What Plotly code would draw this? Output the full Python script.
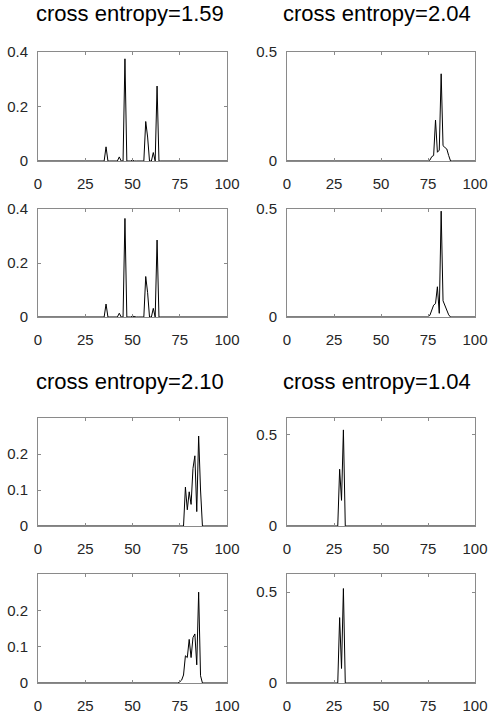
import plotly.graph_objects as go

# ---------------- data ----------------
x_vals = list(range(0, 101))
x_ticks = [0, 25, 50, 75, 100]

titles = ["cross entropy=1.59", "cross entropy=2.04", "cross entropy=2.10", "cross entropy=1.04"]

# each panel: first index of the non-zero segment + values of the segment (all others are 0)
p1_start = 35
p1_vals = [0, 0.052, 0, 0, 0, 0, 0, 0, 0.015, 0, 0, 0.375, 0, 0, 0, 0.003, 0, 0, 0, 0, 0,
           0, 0.145, 0.088, 0, 0, 0.031, 0, 0.275, 0]
p2_start = 75
p2_vals = [0, 0.004, 0.02, 0.025, 0.188, 0.04, 0.05, 0.40, 0.07, 0.062, 0.055, 0.025, 0]
p3_start = 35
p3_vals = [0, 0.048, 0, 0, 0, 0, 0, 0, 0.014, 0, 0, 0.365, 0, 0, 0, 0.003, 0, 0, 0, 0, 0,
           0, 0.15, 0.09, 0, 0, 0.032, 0, 0.285, 0]
p4_start = 75
p4_vals = [0, 0.008, 0.03, 0.055, 0.062, 0.14, 0.017, 0.49, 0.075, 0.05, 0.035, 0.01, 0]
p5_start = 77
p5_vals = [0, 0.108, 0.045, 0.095, 0.06, 0.16, 0.195, 0.04, 0.25, 0.1, 0]
p6_start = 27
p6_vals = [0, 0.31, 0.14, 0.525, 0]
p7_start = 74
p7_vals = [0, 0.003, 0.008, 0.022, 0.075, 0.07, 0.12, 0.07, 0.125, 0.135, 0.05, 0.25, 0.02, 0]
p8_start = 27
p8_vals = [0, 0.36, 0.08, 0.52, 0]

y_ranges = [[0, 0.4], [0, 0.5], [0, 0.4], [0, 0.5], [0, 0.3], [0, 0.59], [0, 0.3], [0, 0.6]]
y_tickvals = [[0, 0.2, 0.4], [0, 0.5], [0, 0.2, 0.4], [0, 0.5],
              [0, 0.1, 0.2], [0, 0.5], [0, 0.1, 0.2], [0, 0.5]]
y_ticktext = [["0", "0.2", "0.4"], ["0", "0.5"], ["0", "0.2", "0.4"], ["0", "0.5"],
              ["0", "0.1", "0.2"], ["0", "0.5"], ["0", "0.1", "0.2"], ["0", "0.5"]]


def full_series(start, vals):
    ys = [0.0] * len(x_vals)
    for i, v in enumerate(vals):
        ys[start + i] = v
    return ys


series = [full_series(p1_start, p1_vals), full_series(p2_start, p2_vals),
          full_series(p3_start, p3_vals), full_series(p4_start, p4_vals),
          full_series(p5_start, p5_vals), full_series(p6_start, p6_vals),
          full_series(p7_start, p7_vals), full_series(p8_start, p8_vals)]

# ---------------- layout geometry (pixels in a 489x715 page) ----------------
W, H = 489, 715
col_px = [(38, 227), (287, 475)]
row_px = [(52, 161), (209, 317), (418, 526), (574, 683)]

AX_COLOR = "#8a8a8a"
FONT = "Liberation Sans, Arial, sans-serif"

fig = go.Figure()
layout = dict(
    width=W, height=H,
    margin=dict(l=0, r=0, t=0, b=0, pad=0),
    paper_bgcolor="white", plot_bgcolor="white",
    showlegend=False,
    font=dict(family=FONT, size=15, color="#262626"),
)

for k in range(8):
    r, c = divmod(k, 2)
    n = k + 1
    xa = "x" if n == 1 else f"x{n}"
    ya = "y" if n == 1 else f"y{n}"
    fig.add_trace(go.Scatter(x=x_vals, y=series[k], mode="lines",
                             line=dict(color="black", width=1),
                             xaxis=xa, yaxis=ya, hoverinfo="skip"))
    x0, x1 = col_px[c]
    yt, yb = row_px[r]
    common = dict(showgrid=False, zeroline=False, showline=True, linecolor=AX_COLOR,
                  linewidth=1, mirror="ticks", ticks="inside", ticklen=3,
                  tickcolor=AX_COLOR, tickwidth=1, automargin=False,
                  tickfont=dict(family=FONT, size=15, color="#262626"))
    layout["xaxis" if n == 1 else f"xaxis{n}"] = dict(
        domain=[x0 / W, x1 / W], anchor=ya, range=[0, 100],
        tickvals=x_ticks, ticktext=[str(t) for t in x_ticks],
        ticklabelstandoff=9, **common)
    layout["yaxis" if n == 1 else f"yaxis{n}"] = dict(
        domain=[1 - yb / H, 1 - yt / H], anchor=xa, range=y_ranges[k],
        tickvals=y_tickvals[k], ticktext=y_ticktext[k],
        ticklabelstandoff=6, **common)

title_pos = [(130, 13), (377, 13), (130, 381), (377, 381)]
annotations = []
for t, (tx, ty) in zip(titles, title_pos):
    annotations.append(dict(text=t, x=tx / W, y=1 - ty / H,
                            xref="paper", yref="paper",
                            xanchor="center", yanchor="middle", showarrow=False,
                            font=dict(family=FONT, size=22, color="black")))
layout["annotations"] = annotations

fig.update_layout(**layout)
# remove the browser's default 8px page margin so the figure fills the window exactly
fig.write_html("out.html",
               config={"displayModeBar": False, "staticPlot": True},
               post_script="document.body.style.margin='0';document.body.style.overflow='hidden';")
